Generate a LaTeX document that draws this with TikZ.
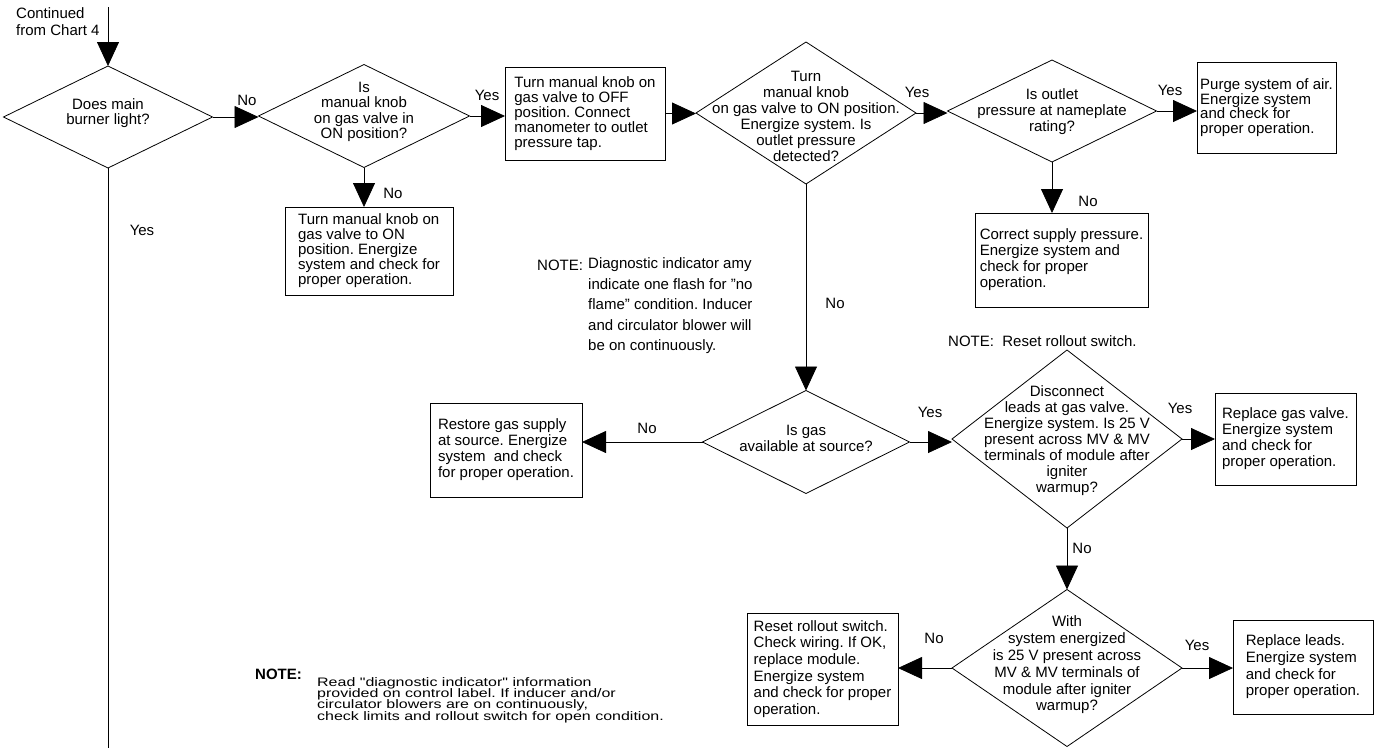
\documentclass[tikz,border=0pt]{standalone}
\usepackage{fontspec}
\setmainfont{Liberation Sans}
\newfontfamily\notefont[FakeStretch=1.3]{Liberation Sans}
\usetikzlibrary{arrows.meta,shapes.geometric}
\lineskiplimit=-\maxdimen
\frenchspacing

\begin{document}
\begin{tikzpicture}[x=1pt,y=-1pt,
    every node/.style={font=\fontsize{15}{16}\selectfont},
    dec/.style={diamond,draw,line width=0.8pt,inner sep=0pt,outer sep=0pt},
    txt/.style={align=center,inner sep=0pt},
    box/.style={draw,line width=0.8pt,align=left,inner sep=0pt,outer sep=0pt},
    lbl/.style={inner sep=0pt},
    link/.style={draw,line width=0.8pt},
    arr/.style={link,-{Triangle[length=24pt,width=22pt]}}]
    \useasboundingbox (0,0) rectangle (1375,748);

    \node[anchor=west,align=left,inner sep=0pt,font=\fontsize{15}{17}\selectfont] (cont) at (16,22) {Continued\\from Chart 4};
    \coordinate (top) at (108,7);
    \coordinate (bot) at (108,748);

    \node[dec,minimum width=209pt,minimum height=102pt] (d1) at (108,117) {};
    \node[txt,font=\fontsize{15}{15}\selectfont] (d1t) at (108,113) {Does main\\burner light?};
    \node[dec,minimum width=211pt,minimum height=103pt] (d2) at (364,116) {};
    \node[txt,font=\fontsize{15}{15.3}\selectfont] (d2t) at (364,112) {Is\\manual knob\\on gas valve in\\ON position?};
    \node[dec,minimum width=220pt,minimum height=142pt] (d3) at (806,113) {};
    \node[txt] (d3t) at (806,116) {Turn\\manual knob\\on gas valve to ON position.\\Energize system. Is\\outlet pressure\\detected?};
    \node[dec,minimum width=209pt,minimum height=102pt] (d4) at (1052,111) {};
    \node[txt] (d4t) at (1052,112) {Is outlet\\pressure at nameplate\\rating?};
    \node[dec,minimum width=207pt,minimum height=103pt] (gas) at (806,442) {};
    \node[txt] (gast) at (806,438) {Is gas\\available at source?};
    \node[dec,minimum width=230pt,minimum height=178pt] (d5) at (1067,439) {};
    \node[txt] (d5t) at (1067,441) {Disconnect\\leads at gas valve.\\Energize system. Is 25 V\\present across MV \& MV\\terminals of module after\\igniter\\warmup?};
    \node[dec,minimum width=230pt,minimum height=157pt] (d6) at (1067,668) {};
    \node[txt,font=\fontsize{15}{16.8}\selectfont] (d6t) at (1067,665) {With\\system energized\\is 25 V present across\\MV \& MV terminals of\\module after igniter\\warmup?};

    \node[box,minimum width=160pt,minimum height=93pt,font=\fontsize{15}{15}\selectfont] (offbox) at (585,113.5) {Turn manual knob on\\gas valve to OFF\\position. Connect\\manometer to outlet\\pressure tap.};
    \node[box,minimum width=168pt,minimum height=88pt,font=\fontsize{15}{15}\selectfont] (onbox) at (369,251) {Turn manual knob on\\gas valve to ON\\position. Energize\\system and check for\\proper operation.};
    \node[box,minimum width=139pt,minimum height=91pt,font=\fontsize{15}{14.5}\selectfont] (purge) at (1266.5,107.5) {Purge system of air.\\Energize system\\and check for\\proper operation.};
    \node[box,minimum width=173pt,minimum height=94pt] (correct) at (1061.5,260) {Correct supply pressure.\\Energize system and\\check for proper\\operation.};
    \node[box,minimum width=152pt,minimum height=94pt] (restore) at (506,450) {Restore gas supply\\at source. Energize\\system\ \ and check\\for proper operation.};
    \node[box,minimum width=141pt,minimum height=92pt] (gasvalve) at (1285.5,439) {Replace gas valve.\\Energize system\\and check for\\proper operation.};
    \node[box,minimum width=151pt,minimum height=112pt,font=\fontsize{15}{16.6}\selectfont] (reset) at (822.5,669) {Reset rollout switch.\\Check wiring. If OK,\\replace module.\\Energize system\\and check for proper\\operation.};
    \node[box,minimum width=140pt,minimum height=94pt,font=\fontsize{15}{16.6}\selectfont] (leads) at (1303,667) {Replace leads.\\Energize system\\and check for\\proper operation.};

    \path[arr] (top) -- (d1.north);
    \path[link] (d1.south) -- (bot);
    \path[arr] (d1.east) -- (d1.east -| d2.west);
    \path[arr] (d2.east) -- (d2.east -| offbox.west);
    \path[arr] (d2.south) -- (d2.south |- onbox.north);
    \path[arr] (offbox.east) -- (offbox.east -| d3.west);
    \path[arr] (d3.east) -- (d3.east -| d4.west);
    \path[arr] (d4.east) -- (d4.east -| purge.west);
    \path[arr] (d4.south) -- (d4.south |- correct.north);
    \path[arr] (d3.south) -- (gas.north);
    \path[arr] (gas.west) -- (gas.west -| restore.east);
    \path[arr] (gas.east) -- (gas.east -| d5.west);
    \path[arr] (d5.east) -- (d5.east -| gasvalve.west);
    \path[arr] (d5.south) -- (d6.north);
    \path[arr] (d6.west) -- (d6.west -| reset.east);
    \path[arr] (d6.east) -- (d6.east -| leads.west);

    \foreach \n/\x/\y/\t in {la/247/100/No, lb/142/230/Yes, lc/393/193/No, ld/487/95/Yes,
                             le/917/92/Yes, lf/1170/90/Yes, lg/1088/201/No, lh/835/303/No,
                             li/647/428/No, lj/930/412/Yes, lk/1180/408/Yes, ll/1082/548/No,
                             lm/934/638/No, ln/1197/645/Yes}
        \node[lbl] (\n) at (\x,\y) {\t};

    \node[anchor=west,inner sep=0pt] (note1) at (537,265) {NOTE:};
    \node[anchor=west,align=left,inner sep=0pt,font=\fontsize{15}{20.5}\selectfont] (note1b) at (588,306) {Diagnostic indicator amy\\indicate one flash for "no\\flame" condition. Inducer\\and circulator blower will\\be on continuously.};
    \node[anchor=west,inner sep=0pt] (note2) at (948,341) {NOTE:\ \ Reset rollout switch.};
    \node[anchor=west,inner sep=0pt,font=\bfseries\fontsize{15}{16}\selectfont] (note3) at (255,674) {NOTE:};
    \node[anchor=west,align=left,inner sep=0pt,font=\notefont\fontsize{12.3}{11.4}\selectfont] (note3b) at (317,700) {Read "diagnostic indicator" information\\provided on control label. If inducer and/or\\circulator blowers are on continuously,\\check limits and rollout switch for open condition.};

\end{tikzpicture}
\end{document}
